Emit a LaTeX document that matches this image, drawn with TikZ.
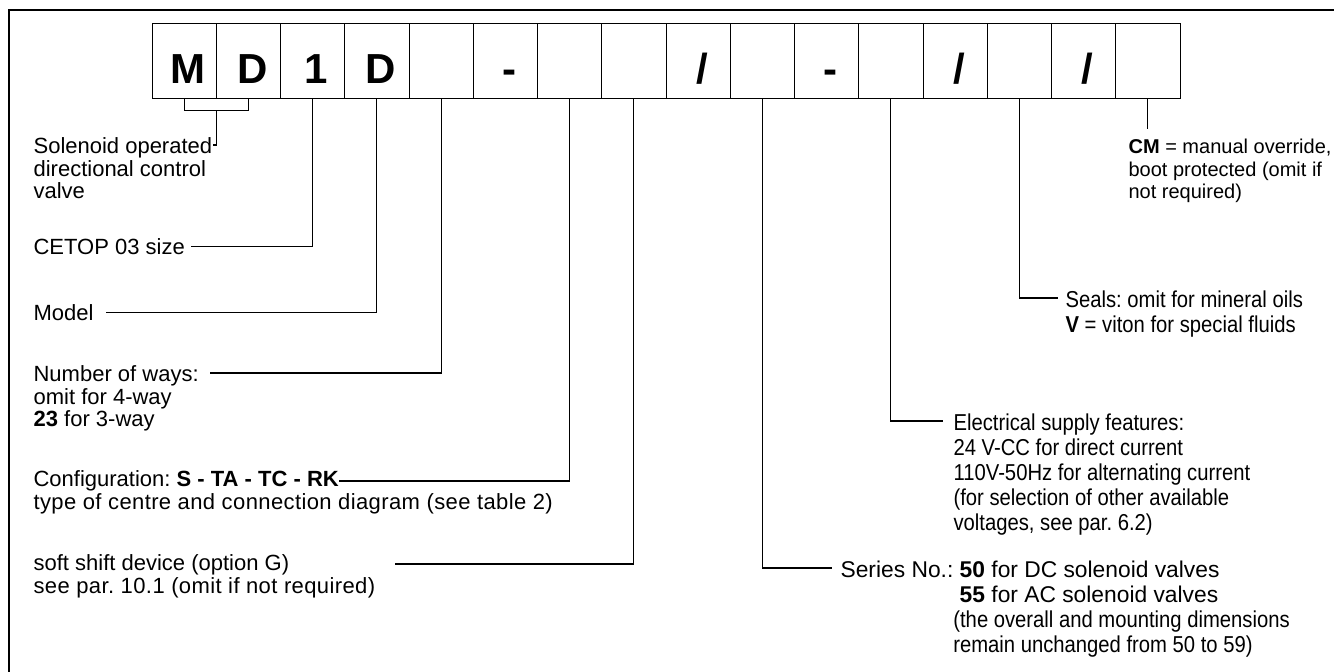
\documentclass[tikz,border=0pt]{standalone}
\usepackage{fontspec}
\setmainfont{Liberation Sans}
\newfontfamily\narrowsf[FakeStretch=0.88]{Liberation Sans}
\frenchspacing
\begin{document}
\begin{tikzpicture}
[x=.5pt,y=-.5pt,line width=.6pt,
 cell/.style={draw,line width=.5pt,minimum width=32.125pt,minimum height=37.5pt,inner sep=0pt,
  text height=30pt,text depth=7.5pt,font=\fontsize{21}{24}\selectfont\bfseries,execute at begin node=\hspace{4pt}},
 lt/.style={inner sep=0pt,align=left,anchor=north west,font=\fontsize{11}{11.25}\selectfont},
 rt/.style={lt,font=\fontsize{10}{11.25}\selectfont},
 nt/.style={lt,font=\narrowsf\fontsize{11.5}{12.5}\selectfont}]
\useasboundingbox (0,0) rectangle (1334,671);
\clip (0,0) rectangle (1334,671);
\draw[line width=.9pt] (1340,10) -| (9,680);
% code boxes
\foreach \ch [count=\i] in {M,D,1,D,{},-,{},{},/,{},-,{},/,{},/,{}}
  \node[cell] (b\i) at ({152+64.25*(\i-.5)},60.5) {\ch};
% left texts
\node[lt] (sol) at (33,137) {Solenoid operated\\directional control\\valve};
\node[lt,anchor=west] (cetop) at (33,246.5) {CETOP 03 size};
\node[lt,anchor=west] (model) at (33,312.5) {Model};
\node[lt] (ways) at (33,365) {Number of ways:\\omit for 4-way\\\textbf{23} for 3-way};
\node[lt,anchor=west] (cfg) at (33,481) {Configuration: \textbf{S - TA - TC - RK}};
\node[lt,anchor=base west] (cfgb) at ([yshift=-11.25pt]cfg.base west)
  {\addfontfeature{LetterSpace=1.8}type of centre and connection diagram (see table 2)};
\node[lt] (soft) at (33,554) {soft shift device (option G)\\\addfontfeature{LetterSpace=1.8}see par. 10.1 (omit if not required)};
% right texts
\node[rt] (cm) at (1128,138.5) {\textbf{CM} = manual override,\\boot protected (omit if\\not required)};
\node[nt] (seal) at (1065,290) {Seals: omit for mineral oils\\\textbf{V} = viton for special fluids};
\node[nt] (elec) at (953,413) {Electrical supply features:\\24 V-CC for direct current\\110V-50Hz for alternating current\\(for selection of other available\\voltages, see par. 6.2)};
\node[lt,font=\fontsize{11.4}{12.5}\selectfont] (ser) at (840,560)
  {Series No.: \textbf{50} for DC solenoid valves\\\phantom{Series No.: }\textbf{55} for AC solenoid valves\\
   \phantom{Series No.:}{\narrowsf\fontsize{11.5}{12.5}\selectfont(the overall and mounting dimensions}\\
   \phantom{Series No.:}{\narrowsf\fontsize{11.5}{12.5}\selectfont remain unchanged from 50 to 59)}};
% leaders
\draw (b1.south) -- ++(0,12) -| (b2.south);
\draw ([yshift=-6pt]b1.south east) |- ([yshift=-4pt]sol.north east);
\draw (b3.south) |- ([xshift=3pt]cetop.east);
\draw (b4.south) |- ([xshift=6pt]model.east);
\draw (b5.south) |- ([xshift=5.5pt,yshift=-4pt]ways.north east);
\draw (b7.south) |- (cfg.east);
\draw (b8.south) |- ([xshift=9.5pt,yshift=-5pt]soft.north east);
\draw (b10.south) |- ([xshift=-4pt,yshift=-4pt]ser.north west);
\draw (b12.south) |- ([xshift=-5pt,yshift=-4pt]elec.north west);
\draw (b14.south) |- ([xshift=-3.5pt,yshift=-4pt]seal.north west);
\draw (b16.south) -- ++(0,30);
\end{tikzpicture}
\end{document}
